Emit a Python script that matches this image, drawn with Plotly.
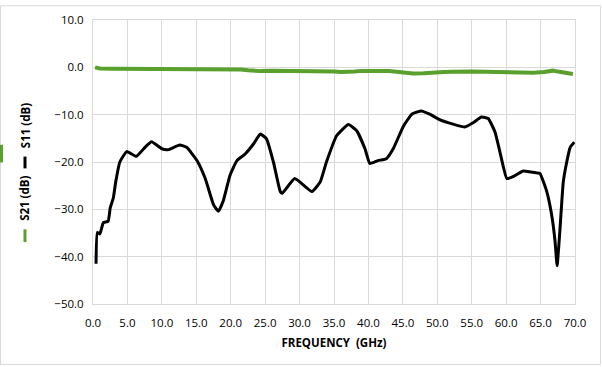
import plotly.graph_objects as go

# S21 (green) data
s21_freq = [0.3, 0.6, 1.0, 3.0, 7.5, 7.9, 12.0, 18.0, 21.5, 22.5, 23.5, 24.3, 26.0, 30.0, 34.0, 35.0,
            36.0, 37.0, 38.0, 39.0, 40.0, 41.5, 43.0, 44.0, 45.0, 46.5, 48.0, 49.0, 50.0, 51.0,
            52.0, 53.7, 55.0, 57.0, 59.0, 60.5, 62.0, 64.0, 65.5, 66.8, 67.5, 68.5, 69.7]
s21_db = [0.0, -0.15, -0.25, -0.3, -0.3, -0.35, -0.35, -0.4, -0.45, -0.6, -0.8, -0.8, -0.7, -0.7, -0.7, -0.9,
          -1.0, -1.0, -0.9, -0.75, -0.7, -0.75, -0.8, -1.0, -1.1, -1.3, -1.25, -1.1, -1.0, -1.0,
          -0.95, -0.85, -0.9, -0.95, -1.0, -1.1, -1.2, -1.15, -1.0, -0.7, -0.9, -1.2, -1.4]

# S11 (black) data
s11_freq = [0.44, 0.63, 1.0, 1.5, 2.2, 2.5, 2.95, 3.3, 3.9, 4.9, 6.3, 7.55, 8.5, 10.0, 10.9, 12.6, 13.6,
            15.1, 16.3, 17.5, 18.2, 18.9, 19.9, 20.9, 22.1, 23.3, 24.3, 25.2, 26.2, 27.2, 27.5,
            29.3, 31.8, 33.0, 33.9, 35.4, 37.1, 38.3, 39.5, 40.2, 41.4, 42.6, 43.6, 45.1, 46.3,
            47.7, 48.9, 50.4, 52.3, 54.0, 55.2, 56.4, 57.4, 58.4, 59.1, 60.1, 61.0, 62.5, 64.4,
            64.9, 65.9, 66.6, 67.1, 67.4, 67.8, 68.3, 68.8, 69.3, 69.9]
s11_db = [-41.5, -34.9, -35.2, -32.8, -32.5, -29.7, -27.6, -24.2, -20.0, -17.8, -18.8, -16.9, -15.7, -17.2,
          -17.4, -16.4, -16.9, -19.7, -23.5, -29.0, -30.4, -28.3, -22.8, -19.7, -18.3, -16.2, -14.1,
          -15.1, -20.0, -26.25, -26.6, -23.5, -26.25, -24.2, -20.0, -14.4, -12.1, -13.4, -17.2, -20.3,
          -19.7, -19.3, -17.2, -12.4, -9.9, -9.2, -9.9, -11.1, -12.0, -12.6, -11.7, -10.5, -10.8,
          -13.75, -17.9, -23.5, -23.1, -21.9, -22.3, -22.4, -26.25, -31.1, -36.7, -41.9, -34.6, -24.2,
          -20.0, -16.9, -15.8]

x_ticks = [0, 5, 10, 15, 20, 25, 30, 35, 40, 45, 50, 55, 60, 65, 70]
y_ticks = [10, 0, -10, -20, -30, -40, -50]

W, H = 602, 367
ML, MR, MT, MB = 93, 27, 15, 63
PW, PH = W - ML - MR, H - MT - MB

def px(x):
    return (x - ML) / PW

def py(y):
    return (H - MB - y) / PH

fig = go.Figure()
fig.add_trace(go.Scatter(x=s21_freq, y=s21_db, mode="lines", name="S21 (dB)",
                         line=dict(color="#5aa02c", width=4), showlegend=False))
fig.add_trace(go.Scatter(x=s11_freq, y=s11_db, mode="lines", name="S11 (dB)",
                         line=dict(color="#000000", width=3, shape="spline", smoothing=0.4),
                         showlegend=False))

font_tick = dict(family="Open Sans", size=11.5, color="#000000")

fig.update_layout(
    width=W, height=H,
    margin=dict(l=ML, r=MR, t=MT, b=MB),
    paper_bgcolor="white", plot_bgcolor="white",
    xaxis=dict(range=[0, 70], tickvals=x_ticks, tickformat=".1f",
               showgrid=True, gridcolor="#d9d9d9", gridwidth=1,
               showline=True, linecolor="#d9d9d9", mirror=True, zeroline=False,
               ticks="", tickfont=font_tick, ticklabelstandoff=8,
               title=dict(text="<b>FREQUENCY  (GHz)</b>", font=dict(family="Open Sans", size=11.5, color="#000"),
                          standoff=10)),
    yaxis=dict(range=[-50, 10], tickvals=y_ticks, tickformat=".1f",
               showgrid=True, gridcolor="#d9d9d9", gridwidth=1,
               showline=True, linecolor="#d9d9d9", mirror=True, zeroline=False,
               ticks="", tickfont=font_tick, ticklabelstandoff=6),
    font=dict(family="Open Sans", size=11, color="#000"),
)
fig.update_xaxes(tickprefix="<b>", ticksuffix="</b>")
fig.update_yaxes(tickprefix="<b>", ticksuffix="</b>")

shapes = []
# outer border
shapes.append(dict(type="rect", xref="paper", yref="paper",
                   x0=px(0.5), x1=px(600.5), y0=py(0.5), y1=py(365.5),
                   line=dict(color="#d9d9d9", width=1), layer="below"))
# legend markers (rotated legend)
shapes.append(dict(type="line", xref="paper", yref="paper",
                   x0=px(25), x1=px(25), y0=py(154), y1=py(166),
                   line=dict(color="#000000", width=3)))
shapes.append(dict(type="line", xref="paper", yref="paper",
                   x0=px(25), x1=px(25), y0=py(228), y1=py(241),
                   line=dict(color="#5aa02c", width=3)))
# small green fragment at left edge
shapes.append(dict(type="rect", xref="paper", yref="paper",
                   x0=px(0), x1=px(3), y0=py(142), y1=py(160),
                   line=dict(width=0), fillcolor="#5aa02c"))

annotations = [
    dict(text="<b>S11 (dB)</b>", xref="paper", yref="paper", x=px(25), y=py(123),
         textangle=-90, showarrow=False, font=dict(family="Open Sans", size=11.5, color="#000"),
         xanchor="center", yanchor="middle"),
    dict(text="<b>S21 (dB)</b>", xref="paper", yref="paper", x=px(25), y=py(197),
         textangle=-90, showarrow=False, font=dict(family="Open Sans", size=11.5, color="#000"),
         xanchor="center", yanchor="middle"),
]
fig.update_layout(shapes=shapes, annotations=annotations)

fig.write_html("out.html", config={"displayModeBar": False},
               post_script="document.body.style.margin='0';document.body.style.padding='0';"
                           "document.documentElement.style.margin='0';")
